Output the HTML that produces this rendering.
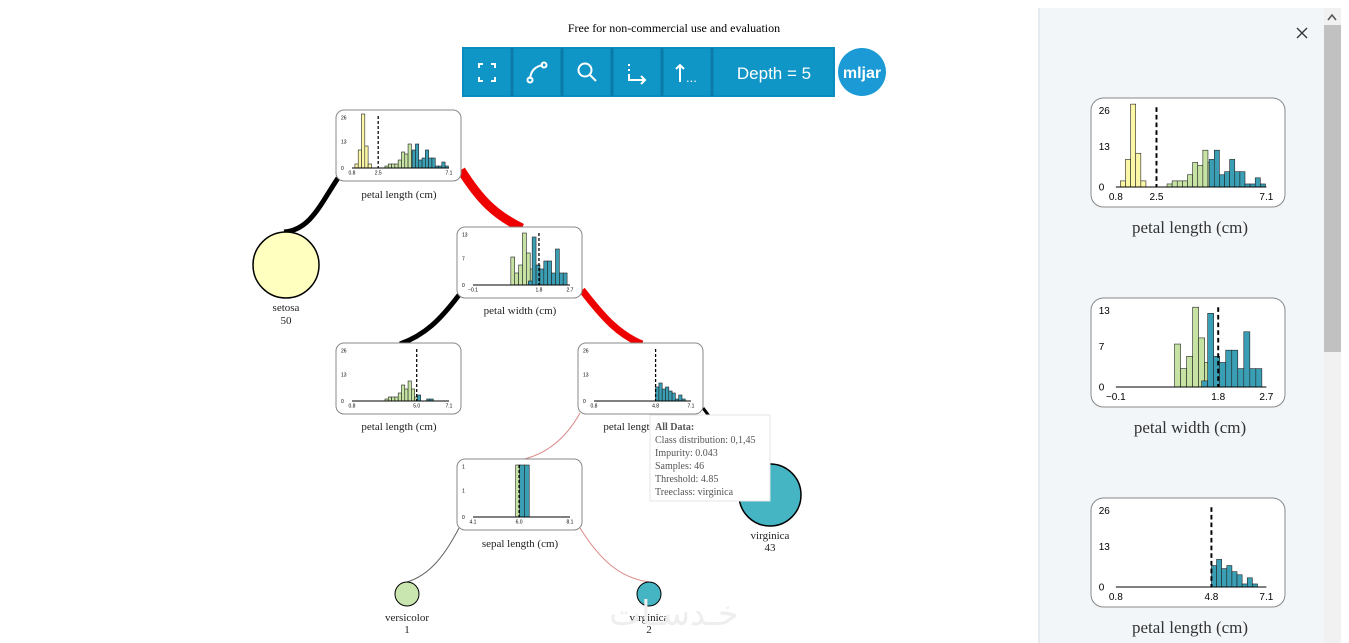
<!DOCTYPE html>
<html><head><meta charset="utf-8"><style>
html,body{margin:0;padding:0;width:1349px;height:643px;overflow:hidden;background:#fff;font-family:"Liberation Serif",serif;}
svg{position:absolute;left:0;top:0}
</style></head><body>
<svg id="s" width="1349" height="643" xmlns="http://www.w3.org/2000/svg">
<rect x="1040" y="8" width="284" height="635" fill="#f2f6f9"/>
<rect x="1038" y="8" width="2" height="635" fill="#e6ebef"/>
<rect x="1324" y="8" width="17" height="635" fill="#f1f1f1"/>
<rect x="1324" y="25" width="17" height="327" fill="#c1c1c1"/>
<path d="M1328,20 L1332,15 L1336,20" fill="none" stroke="#555" stroke-width="1.5"/>
<path d="M1297,28 L1307,38 M1307,28 L1297,38" stroke="#333" stroke-width="1.3"/>
<text x="674" y="32" font-size="12" text-anchor="middle" fill="#000">Free for non-commercial use and evaluation</text>
<rect x="462" y="47" width="373" height="50" fill="#0b8cbf"/>
<rect x="464" y="49" width="369" height="46" fill="#0f95c6"/>
<g stroke="#0a7aa8" stroke-width="3"><line x1="512" y1="48" x2="512" y2="96"/><line x1="562" y1="48" x2="562" y2="96"/><line x1="612" y1="48" x2="612" y2="96"/><line x1="662" y1="48" x2="662" y2="96"/><line x1="712" y1="48" x2="712" y2="96"/></g>
<g stroke="#fff" stroke-width="2" fill="none">
<path d="M479,68 v-4 h4 M491,64 h4 v4 M495,77 v4 h-4 M483,81 h-4 v-4"/>
<path d="M530,79 Q531,67 543,65"/><circle cx="530" cy="80" r="2.5"/><circle cx="544" cy="65" r="2.5"/>
<circle cx="585" cy="70" r="6.5"/><line x1="590" y1="75" x2="596" y2="81"/>
<path d="M629,64 v2 M629,69 v2 M629,74 v6 h16 M641,76 l4,4 l-4,4"/>
<path d="M680,82 v-17 M676,69 l4,-4 l4,4"/>
</g>
<text x="686" y="82" font-size="13" fill="#fff" font-family="Liberation Sans,sans-serif">...</text>
<text x="774" y="79" font-size="17" fill="#fff" text-anchor="middle" font-family="Liberation Sans,sans-serif">Depth = 5</text>
<circle cx="862" cy="72" r="24" fill="#1b9ad5"/>
<text x="862" y="78" font-size="16" font-weight="bold" fill="#fff" text-anchor="middle" font-family="Liberation Sans,sans-serif">mljar</text>
<!-- edges -->
<g fill="none">
<path d="M338,178 C320,205 310,230 284,232" stroke="#000" stroke-width="5"/>
<path d="M461,170 C480,200 495,215 522,228" stroke="#e00" stroke-width="9"/>
<path d="M459,295 C440,320 425,335 400,344" stroke="#000" stroke-width="5"/>
<path d="M582,290 C605,320 620,335 642,344" stroke="#e00" stroke-width="7"/>
<path d="M703,408 C715,425 740,450 765,464" stroke="#000" stroke-width="3"/>
<path d="M580,413 C565,440 545,455 520,460" stroke="#d88" stroke-width="1"/>
<path d="M459,528 C445,555 430,575 407,582" stroke="#666" stroke-width="1"/>
<path d="M580,528 C600,560 620,578 649,582" stroke="#d88" stroke-width="1"/>
</g>
<circle cx="286" cy="265" r="33" fill="#ffffc0" stroke="#000" stroke-width="1.5"/>
<circle cx="770" cy="495" r="31" fill="#45b5c4" stroke="#000" stroke-width="1.5"/>
<circle cx="407" cy="594" r="12" fill="#c9e6b0" stroke="#000" stroke-width="1"/>
<circle cx="649" cy="594" r="12" fill="#45b5c4" stroke="#000" stroke-width="1"/>
<g font-size="11" text-anchor="middle" fill="#222">
<text x="286" y="311">setosa</text><text x="286" y="324">50</text>
<text x="770" y="539">virginica</text><text x="770" y="551">43</text>
<text x="407" y="621">versicolor</text><text x="407" y="633">1</text>
<text x="649" y="621">virginica</text><text x="649" y="633">2</text>
<text x="399" y="198">petal length (cm)</text>
<text x="520" y="314">petal width (cm)</text>
<text x="399" y="430">petal length (cm)</text>
<text x="641" y="430">petal length (cm)</text>
<text x="520" y="547">sepal length (cm)</text>
</g>
<g font-size="17" text-anchor="middle" fill="#333">
<text x="1190" y="233">petal length (cm)</text>
<text x="1190" y="433">petal width (cm)</text>
<text x="1190" y="633">petal length (cm)</text>
</g>
<g id="h"></g>
<rect x="650" y="415" width="120" height="86" fill="#fff" stroke="#e4e4e4"/>
<g font-size="10" fill="#555">
<text x="655" y="430" font-weight="bold">All Data:</text>
<text x="655" y="443">Class distribution: 0,1,45</text>
<text x="655" y="456">Impurity: 0.043</text>
<text x="655" y="469">Samples: 46</text>
<text x="655" y="482">Threshold: 4.85</text>
<text x="655" y="495">Treeclass: virginica</text>
</g>
<text x="674" y="625" font-size="34" fill="#eee" text-anchor="middle" font-family="DejaVu Sans,sans-serif">خـدسـات</text>
</svg>
<script>
var Y='#fbf7a6',G='#c6e3a4',T='#3a9fb4';
var H={
root:{max:26,ml:['26','13','0'],xl:[['0.8',0],['2.5',0.27],['7.1',1]],th:0.27,bw:0.034,
 bars:[[Y,0.03,[2,9,27,11,2]],[G,0.34,[1,2,2,2,4,8,7,12,8,5,2]],[T,0.62,[9,12,4,5,9,5,5,1,1,3,1]]]},
pw:{max:13,ml:['13','7','0'],xl:[['\u22120.1',0],['1.8',0.68],['2.7',1]],th:0.68,bw:0.04,
 bars:[[G,0.39,[7,3,5,13,8,4,1]],[T,0.57,[1,12,5,4,6,6,3,9,3,3]]]},
pl2:{max:26,ml:['26','13','0'],xl:[['0.8',0],['5.0',0.667],['7.1',1]],th:0.667,bw:0.034,
 bars:[[G,0.34,[1,2,2,2,4,8,6,10,6,2]],[T,0.674,[3]],[T,0.77,[1,1]]]},
pl3:{max:26,ml:['26','13','0'],xl:[['0.8',0],['4.8',0.635],['7.1',1]],th:0.635,bw:0.034,
 bars:[[T,0.635,[7,9,6,7,5,4,1,3,1]]]},
sl:{max:1,ml:['1','1','0'],xl:[['4.1',0],['6.0',0.475],['8.1',1]],th:0.475,bw:0.05,
 bars:[[G,0.44,[1]],[T,0.48,[1,1]]]}
};
var NS='http://www.w3.org/2000/svg',g=document.getElementById('h');
function el(n,a,t){var e=document.createElementNS(NS,n);for(var k in a)e.setAttribute(k,a[k]);if(t)e.textContent=t;g.appendChild(e);return e;}
function draw(spec,bx,by,sx,sy,fs){
 el('rect',{x:bx,y:by,width:125*sx,height:71*sy,rx:8*sx,fill:'#fff',stroke:'#888','stroke-width':1});
 var ax0=bx+16*sx,ax1=bx+113*sx,ay=by+58*sy,top=by+6*sy,W=ax1-ax0,Hh=ay-top;
 spec.bars.forEach(function(b){b[2].forEach(function(h,i){var hh=Math.min(h/spec.max,1.04)*Hh;
  el('rect',{x:ax0+(b[1]+i*spec.bw)*W,y:ay-hh,width:spec.bw*W,height:hh,fill:b[0],stroke:'#222','stroke-width':0.6});});});
 el('line',{x1:ax0,y1:ay,x2:ax1,y2:ay,stroke:'#000','stroke-width':1});
 var tx=ax0+spec.th*W;
 el('line',{x1:tx,y1:top,x2:tx,y2:ay,stroke:'#000','stroke-width':1.5*sx/1.2,'stroke-dasharray':(3*sy)+','+(2*sy)});
 var ly=[top+fs*0.7,top+Hh/2+fs*0.3,ay+fs*0.35];
 spec.ml.forEach(function(t,i){el('text',{x:bx+5*sx,y:ly[i],'font-size':fs,'font-family':'Liberation Sans,sans-serif',fill:'#000'},t);});
 spec.xl.forEach(function(l){el('text',{x:ax0+l[1]*W,y:ay+fs*1.3,'font-size':fs,'text-anchor':'middle','font-family':'Liberation Sans,sans-serif',fill:'#000'},l[0]);});
}
draw(H.root,336,110,1,1,5);
draw(H.pw,457,227,1,1,5);
draw(H.pl2,336,343,1,1,5);
draw(H.pl3,578,343,1,1,5);
draw(H.sl,457,459,1,1,5);
draw(H.root,1091,98,1.552,1.535,10);
draw(H.pw,1091,298,1.552,1.535,10);
draw(H.pl3,1091,498,1.552,1.535,10);
</script>
</body></html>
